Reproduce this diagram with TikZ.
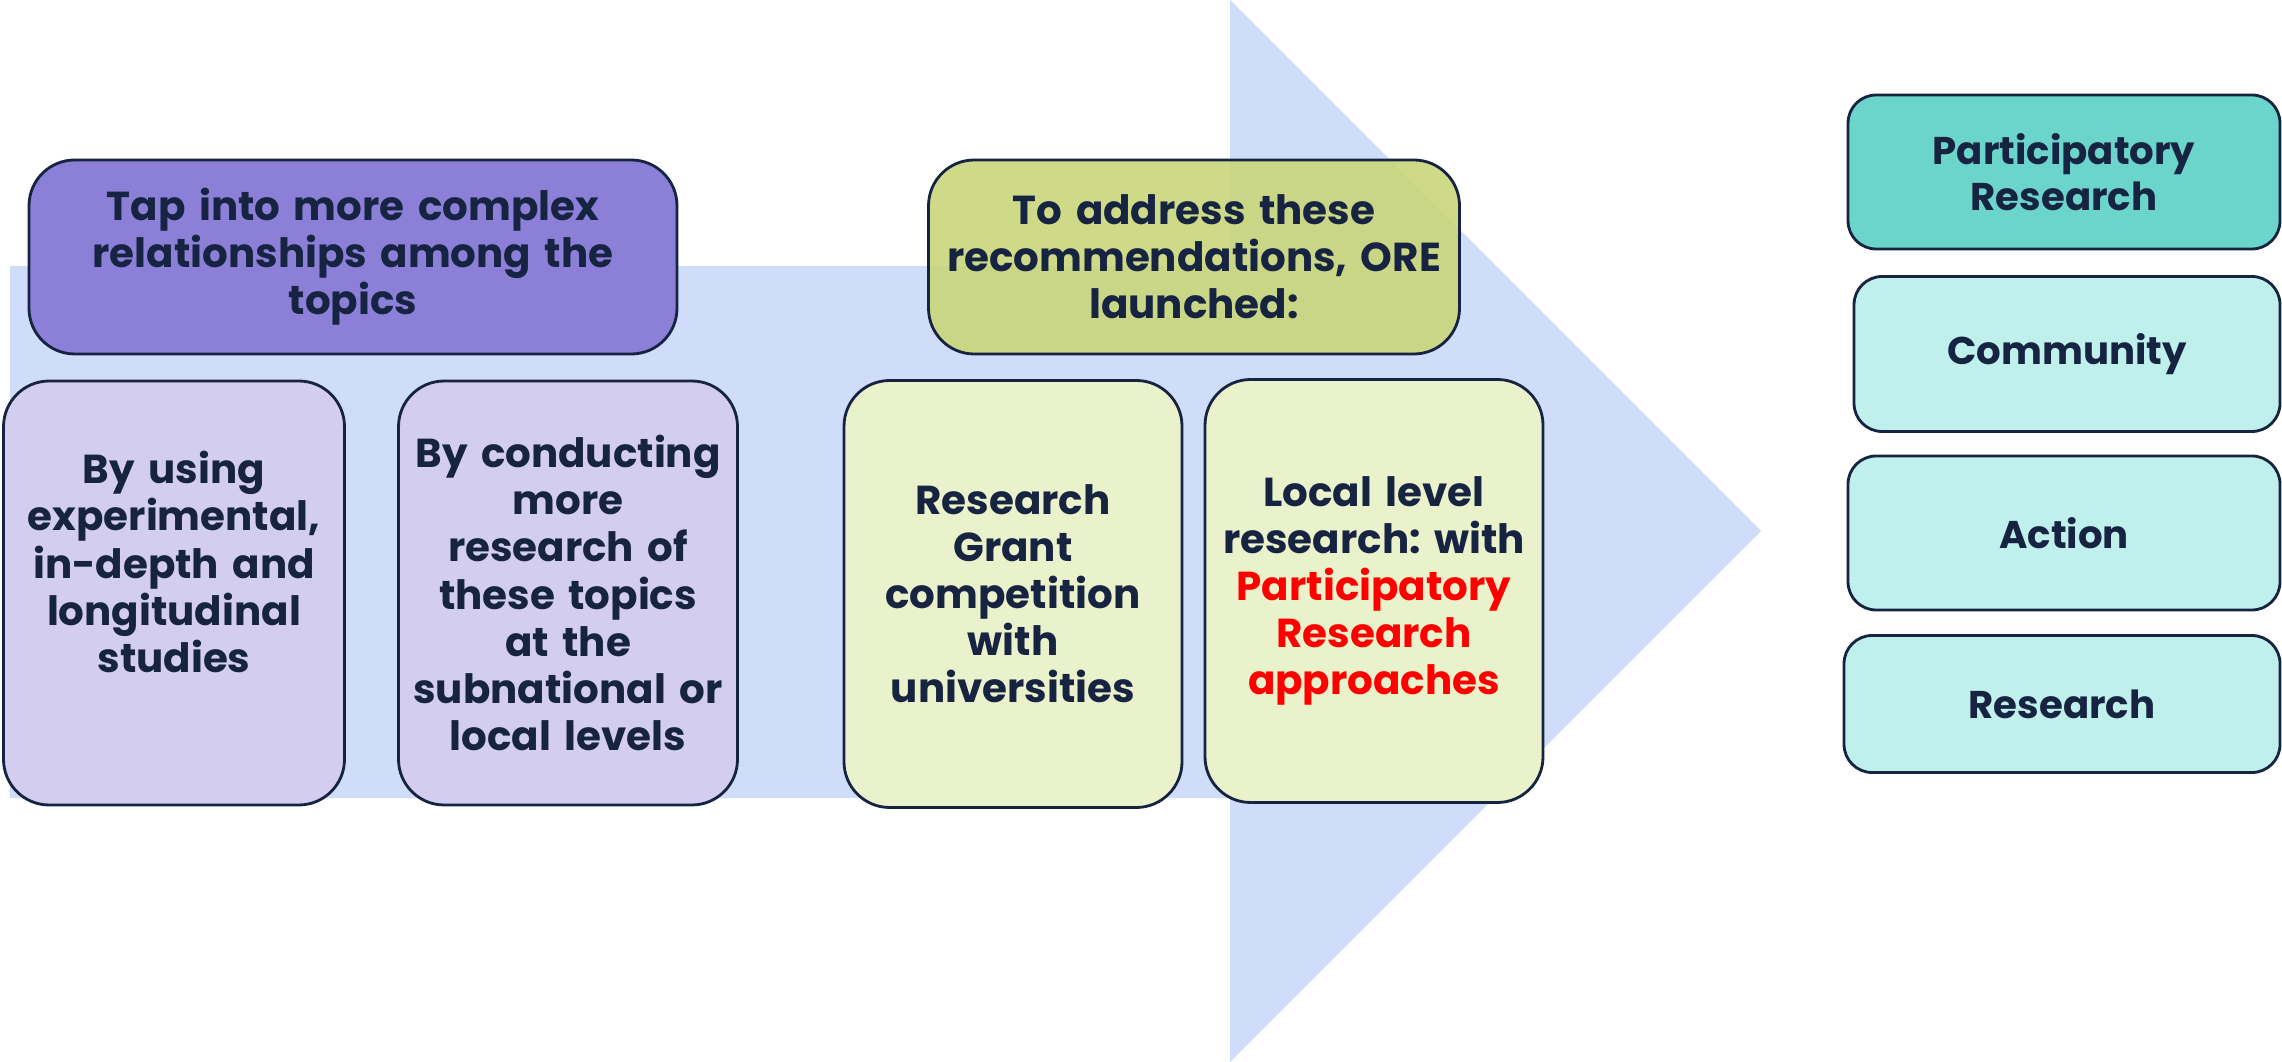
\documentclass[tikz,border=0pt]{standalone}
\usepackage{fontspec}
\setmainfont{Poppins}
\usepackage{tikz}
\frenchspacing

\definecolor{arrowblue}{RGB}{207,220,250}
\definecolor{tapviolet}{RGB}{139,127,216}
\definecolor{lavender}{RGB}{211,205,240}
\definecolor{olivegreen}{RGB}{201,214,122}
\definecolor{palegreen}{RGB}{234,242,203}
\definecolor{prteal}{RGB}{107,212,203}
\definecolor{paleteal}{RGB}{191,240,236}
\definecolor{ink}{RGB}{22,35,65}

\begin{document}
\begin{tikzpicture}[x=0.1mm,y=-0.1mm,
	box/.style={draw=ink,line width=0.8pt,rounded corners=13pt,inner sep=0pt,
		align=center,text=ink,font=\bfseries\fontsize{11.5}{13.4}\selectfont},
	sidebox/.style={box,rounded corners=8pt,fill=paleteal,text width=38mm,
		font=\bfseries\fontsize{11}{13}\selectfont}]
	\useasboundingbox (0,0) rectangle (2282,1062);

	% big arrow behind everything
	\fill[arrowblue] (10,266) -- (1230,266) -- (1230,0) -- (1761,531)
		-- (1230,1062) -- (1230,798) -- (10,798) -- cycle;

	% left group
	\node[box,fill=tapviolet,minimum width=64.8mm,minimum height=19.4mm,text width=58mm] (tap) at (353,257)
		{Tap into more complex\\relationships among the\\topics};
	\node[box,fill=lavender,minimum width=34.1mm,minimum height=42.4mm] (using) at (174,593) {};
	\node[align=center,text=ink,font=\bfseries\fontsize{11.5}{13.4}\selectfont,text width=30mm] (usingtext) at (174,562)
		{By using\\experimental,\\in-depth and\\longitudinal\\studies};
	\node[box,fill=lavender,minimum width=33.9mm,minimum height=42.4mm,text width=31mm] (conducting) at (568,593)
		{By conducting\\more\\research of\\these topics\\at the\\subnational or\\local levels};

	% middle group
	\node[box,fill=olivegreen,fill opacity=0.9,text opacity=1,minimum width=53.1mm,minimum height=19.4mm,text width=51mm] (address) at (1194,257)
		{To address these\\recommendations, ORE\\launched:};
	\node[box,fill=palegreen,minimum width=33.8mm,minimum height=42.7mm,text width=30mm] (grant) at (1013,594)
		{Research\\Grant\\competition\\with\\universities};
	\node[box,fill=palegreen,minimum width=33.8mm,minimum height=42.3mm,text width=31mm] (local) at (1374,591)
		{Local level\\research: with\\\textcolor{red}{Participatory\\Research\\approaches}};

	% right column
	\node[sidebox,fill=prteal,minimum width=43.2mm,minimum height=15.4mm] (partres) at (2064,172)
		{Participatory\\Research};
	\node[sidebox,minimum width=42.6mm,minimum height=15.5mm] (community) at (2067,354) {Community};
	\node[sidebox,minimum width=43.2mm,minimum height=15.4mm] (action) at (2064,533) {Action};
	\node[sidebox,minimum width=43.6mm,minimum height=13.7mm] (research) at (2062,704) {Research};
\end{tikzpicture}
\end{document}
